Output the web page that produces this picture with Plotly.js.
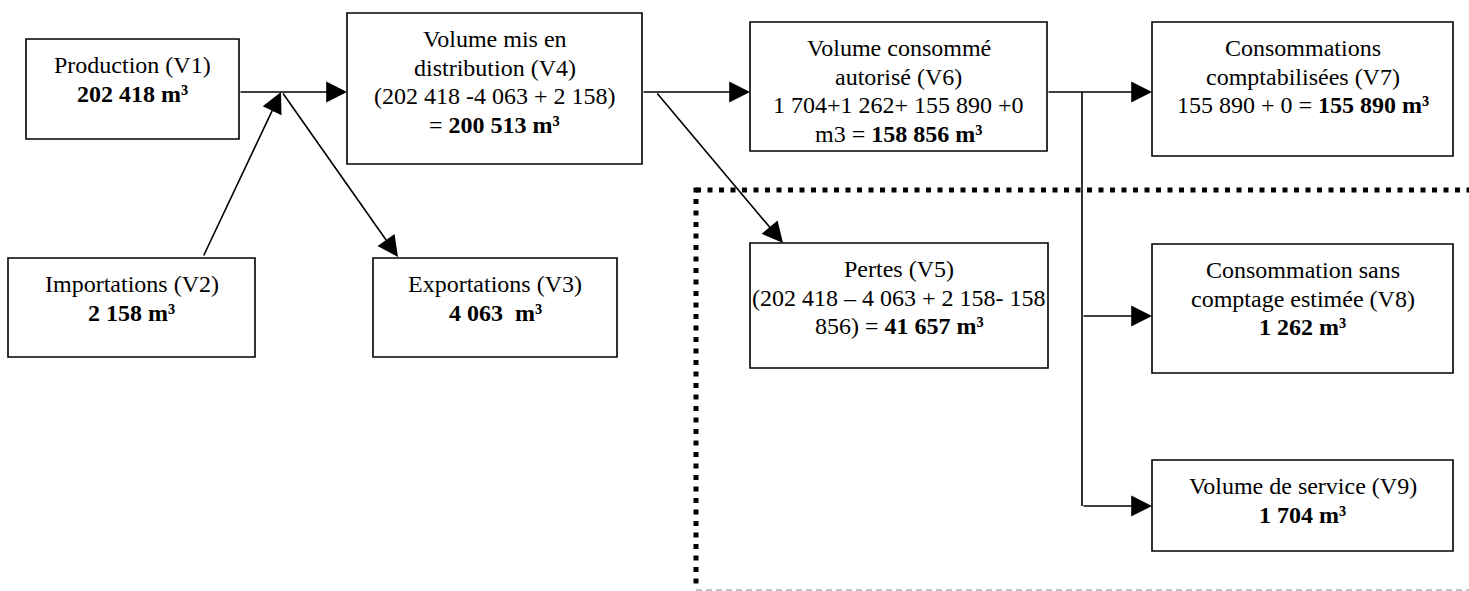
<!DOCTYPE html>
<html>
<head>
<meta charset="utf-8">
<script src="https://cdn.plot.ly/plotly-3.0.1.min.js"></script>
<style>html,body{margin:0;padding:0;background:#fff;}#chart{width:1469px;height:591px;}</style>
</head>
<body>
<div id="chart"></div>
<script>
// ---- data: node ids and their text lines ----
const nodeIds = ["V1", "V4", "V6", "V7", "V2", "V3", "V5", "V8", "V9"];
const linesV1 = ["Production (V1)", "<b>202 418 m³</b>"];
const linesV4 = ["Volume mis en", "distribution (V4)", "(202 418 -4 063 + 2 158)", "= <b>200 513 m³</b>"];
const linesV6 = ["Volume consommé", "autorisé (V6)", "1 704+1 262+ 155 890 +0", "m3 = <b>158 856 m³</b>"];
const linesV7 = ["Consommations", "comptabilisées (V7)", "155 890 + 0 = <b>155 890 m³</b>"];
const linesV2 = ["Importations (V2)", "<b>2 158 m³</b>"];
const linesV3 = ["Exportations (V3)", "<b>4 063\u00a0 m³</b>"];
const linesV5 = ["Pertes (V5)", "(202 418 – 4 063 + 2 158- 158", "856) = <b>41 657 m³</b>"];
const linesV8 = ["Consommation sans", "comptage estimée (V8)", "<b>1 262 m³</b>"];
const linesV9 = ["Volume de service (V9)", "<b>1 704 m³</b>"];
const nodeLines = {V1: linesV1, V4: linesV4, V6: linesV6, V7: linesV7, V2: linesV2, V3: linesV3, V5: linesV5, V8: linesV8, V9: linesV9};

// ---- layout geometry (diagram positions) ----
const boxes = {
  V1: [26, 239, 39, 139],
  V4: [347, 642, 13, 164],
  V6: [750, 1047, 22, 151],
  V7: [1152, 1453, 22, 156],
  V2: [8, 255, 258, 357],
  V3: [373, 617, 258, 357],
  V5: [750, 1048, 243, 368],
  V8: [1152, 1453, 244, 373],
  V9: [1152, 1453, 460, 551]
};
const FONT = {family: "'Liberation Serif', 'Times New Roman', serif", size: 24, color: "#000"};
const LW = 1.6;

const shapes = [];
const annotations = [];

nodeIds.forEach(id => {
  const [x0, x1, y0, y1] = boxes[id];
  shapes.push({type: "rect", xref: "x", yref: "y", x0: x0, x1: x1, y0: y0, y1: y1,
    line: {color: "#000", width: LW}, fillcolor: "rgba(0,0,0,0)"});
  const cx = (x0 + x1) / 2;
  nodeLines[id].forEach((t, i) => {
    annotations.push({xref: "x", yref: "y", x: cx, y: y0 + 26 + i * 28.5, text: t,
      showarrow: false, xanchor: "center", yanchor: "middle", font: FONT});
  });
});

// plain connector line (no head)
shapes.push({type: "line", xref: "x", yref: "y", x0: 1082, x1: 1082, y0: 92, y1: 506, line: {color: "#000", width: LW}});

// arrows: [tailX, tailY, headX, headY]
const arrows = [
  [239, 92, 347, 92],
  [203, 257, 281, 92],
  [282, 92, 398, 257],
  [642, 92, 750, 92],
  [656, 92, 783, 243],
  [1047, 92, 1152, 92],
  [1082, 316, 1152, 316],
  [1082, 506, 1152, 506]
];
arrows.forEach(a => {
  annotations.push({xref: "x", yref: "y", axref: "x", ayref: "y", x: a[2], y: a[3], ax: a[0], ay: a[1],
    text: "", showarrow: true, arrowhead: 2, arrowsize: 2.6, arrowwidth: LW, arrowcolor: "#000", standoff: 0});
});

// dotted boundary
shapes.push({type: "line", xref: "x", yref: "y", x0: 696, x1: 1469, y0: 190, y1: 190, line: {color: "#000", width: 5, dash: "5px,6.5px"}});
shapes.push({type: "line", xref: "x", yref: "y", x0: 696, x1: 696, y0: 187.5, y1: 588, line: {color: "#000", width: 5, dash: "5px,6.5px"}});
shapes.push({type: "line", xref: "x", yref: "y", x0: 696, x1: 1469, y0: 590, y1: 590, line: {color: "#888", width: 1, dash: "6px,4px"}});

const layout = {
  width: 1469, height: 591,
  margin: {l: 0, r: 0, t: 0, b: 0, pad: 0},
  paper_bgcolor: "#fff", plot_bgcolor: "#fff",
  showlegend: false,
  xaxis: {range: [0, 1469], visible: false, fixedrange: true},
  yaxis: {range: [591, 0], visible: false, fixedrange: true},
  shapes: shapes,
  annotations: annotations
};
Plotly.newPlot("chart", [], layout, {displayModeBar: false, staticPlot: true});
</script>
</body>
</html>
